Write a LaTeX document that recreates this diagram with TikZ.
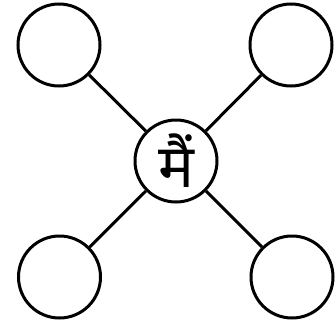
\documentclass[tikz,border=0pt]{standalone}
\usepackage{fontspec}
\newfontfamily\devfont[Script=Devanagari]{Noto Sans}
\usetikzlibrary{positioning}

\begin{document}
\begin{tikzpicture}[x=1pt, y=-1pt,
    cercle/.style={circle, draw, line width=3pt, minimum size=82pt, inner sep=0pt},
    lien/.style={line width=3pt}]
    \useasboundingbox (0,0) rectangle (336,324);
    \node[cercle] (centre) at (176,161) {\devfont\bfseries\fontsize{60pt}{60pt}\selectfont मैं};
    \node[cercle] (hg) at (59,45) {};
    \node[cercle] (hd) at (291,45) {};
    \node[cercle] (bg) at (59.5,277) {};
    \node[cercle] (bd) at (292,277) {};
    \draw[lien] (hg)--(centre); \draw[lien] (hd)--(centre);
    \draw[lien] (bg)--(centre); \draw[lien] (bd)--(centre);
  \end{tikzpicture}
\end{document}
